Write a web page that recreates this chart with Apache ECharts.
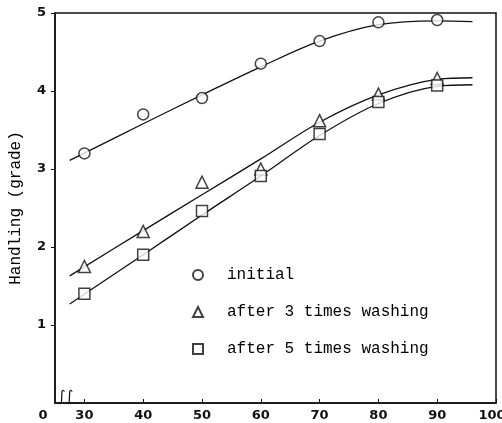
<!DOCTYPE html>
<html>
<head>
<meta charset="utf-8">
<script src="https://cdn.jsdelivr.net/npm/echarts@6/dist/echarts.min.js"></script>
<style>
  html, body { margin: 0; padding: 0; background: #fff; }
  #chart-container { width: 502px; height: 423px; }
</style>
</head>
<body>
<div id="chart-container"></div>
<script>
// measured points
const xValues = [30, 40, 50, 60, 70, 80, 90];
const initial = [3.2, 3.7, 3.91, 4.35, 4.64, 4.88, 4.91];
const wash3 = [1.75, 2.2, 2.83, 3.0, 3.62, 3.96, 4.16];
const wash5 = [1.4, 1.9, 2.46, 2.91, 3.45, 3.86, 4.07];

// hand-drawn fit curves
const fitX = [27.5, 40, 50, 60, 70, 80, 90, 96];
const initialFit = [3.11, 3.58, 3.95, 4.31, 4.64, 4.85, 4.9, 4.89];
const wash3Fit = [1.63, 2.21, 2.67, 3.13, 3.6, 3.95, 4.15, 4.17];
const wash5Fit = [1.27, 1.9, 2.41, 2.91, 3.43, 3.84, 4.06, 4.08];

const seriesNames = ["initial", "after 3 times washing", "after 5 times washing"];
const xTickValues = [30, 40, 50, 60, 70, 80, 90, 100];
const xLabelValues = [25, 30, 40, 50, 60, 70, 80, 90, 100];
const yTickValues = [1, 2, 3, 4, 5];

const ink = "#111";
const mono = "Liberation Mono";

const pairs = (xs, ys) => xs.map((x, i) => [x, ys[i]]);

const pointSeries = (name, data, symbol, size) => ({
  name: name,
  type: "scatter",
  symbol: symbol,
  symbolSize: size,
  data: pairs(xValues, data),
  itemStyle: { color: "#fff", borderColor: ink, borderWidth: 1.5 },
  z: 3,
});

const fitSeries = (data) => ({
  type: "line",
  data: pairs(fitX, data),
  smooth: 0.35,
  showSymbol: false,
  silent: true,
  lineStyle: { color: ink, width: 1.3 },
  z: 2,
});

const tickFont = {
  fontFamily: "DejaVu Sans",
  fontWeight: "bold",
  fontSize: 13,
  color: ink,
};

let option = {
  animation: false,
  backgroundColor: "#fff",
  grid: {
    left: 55,
    right: 6,
    top: 13,
    bottom: 20,
    outerBoundsMode: "none",
    show: true,
    borderColor: ink,
    borderWidth: 1.5,
  },
  legend: {
    orient: "vertical",
    left: 187,
    top: 262,
    itemWidth: 10,
    itemHeight: 10,
    itemGap: 21,
    data: seriesNames,
    textStyle: {
      fontFamily: mono,
      fontSize: 16,
      color: "#000",
      padding: [0, 0, 0, 19],
    },
  },
  xAxis: {
    type: "value",
    min: 25,
    max: 100,
    axisLine: { lineStyle: { color: ink, width: 1.5 } },
    axisTick: {
      inside: true,
      length: 4,
      customValues: xTickValues,
      lineStyle: { color: ink },
    },
    axisLabel: Object.assign({}, tickFont, {
      customValues: xLabelValues,
      margin: 6,
      formatter: (v) => {
        if (v === 25) return "{z|0}";
        if (v === 100) return "{e|100}";
        return String(v);
      },
      rich: {
        z: Object.assign({}, tickFont, { padding: [0, 24, 0, 0] }),
        e: Object.assign({}, tickFont, { padding: [0, 8, 0, 0] }),
      },
    }),
    splitLine: { show: false },
  },
  yAxis: {
    type: "value",
    min: 0,
    max: 5,
    name: "Handling (grade)",
    nameLocation: "middle",
    nameGap: 31,
    nameTextStyle: { fontFamily: mono, fontSize: 16, color: "#000" },
    axisLine: { lineStyle: { color: ink, width: 1.5 } },
    axisTick: {
      length: 4,
      customValues: yTickValues,
      lineStyle: { color: ink },
    },
    axisLabel: Object.assign({}, tickFont, {
      customValues: yTickValues,
      margin: 9,
    }),
    splitLine: { show: false },
  },
  graphic: [
    {
      type: "text",
      left: 58,
      top: 390,
      style: { text: "\u222B\u222B", fontSize: 15, fill: ink, fontFamily: "DejaVu Sans" },
    },
  ],
  series: [
    fitSeries(initialFit),
    fitSeries(wash3Fit),
    fitSeries(wash5Fit),
    pointSeries(seriesNames[0], initial, "circle", 11),
    pointSeries(seriesNames[1], wash3, "triangle", 12),
    pointSeries(seriesNames[2], wash5, "rect", 11),
  ],
};

const paintChart = () => {
  let dom = document.getElementById("chart-container");
  let myChart = echarts.init(dom, null, { renderer: "canvas" });
  myChart.setOption(option);
};
paintChart();
</script>
</body>
</html>
